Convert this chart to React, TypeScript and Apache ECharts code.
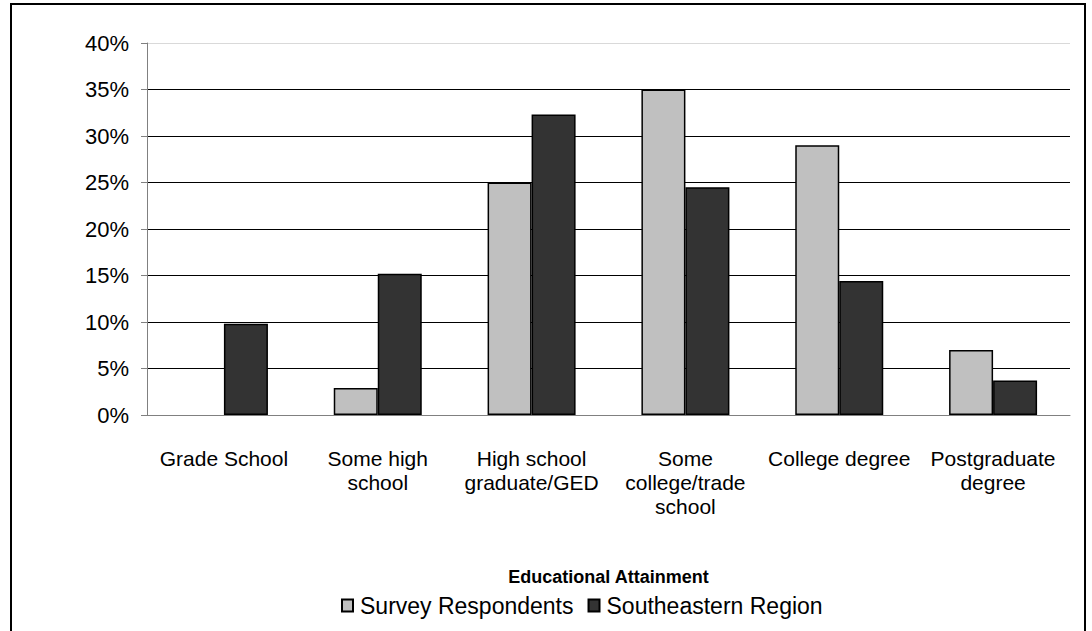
import React, { useEffect, useRef } from "react";
import * as echarts from "echarts";

const categories = [
  "Grade School",
  "Some high\nschool",
  "High school\ngraduate/GED",
  "Some\ncollege/trade\nschool",
  "College degree",
  "Postgraduate\ndegree",
];
const surveyRespondents = [0, 2.9, 25, 35, 29, 7];
const southeasternRegion = [9.8, 15.2, 32.3, 24.5, 14.4, 3.7];
const FONT = 'Arial, "Liberation Sans", sans-serif';

const toData = (arr: number[]) =>
  arr.map((v) => (v === 0 ? { value: v, itemStyle: { borderWidth: 0 } } : v));

export default function App() {
  const ref = useRef<HTMLDivElement>(null);
  useEffect(() => {
    const chart = echarts.init(ref.current!, null, { renderer: "svg" });
    const gridColors = ["#000", "#000", "#000", "#000", "#000", "#000", "#000", "#000", "#d9d9d9"];
    chart.setOption({
      animation: false,
      backgroundColor: "#fff",
      textStyle: { fontFamily: FONT },
      grid: { left: 147, right: 22, top: 43, bottom: 216 },
      graphic: [
        {
          type: "rect",
          shape: { x: 11, y: 4, width: 1074, height: 700 },
          style: { fill: "none", stroke: "#000", lineWidth: 2 },
          silent: true,
        },
      ],
      legend: {
        bottom: 9,
        left: 336,
        icon: "rect",
        itemWidth: 11,
        itemHeight: 12,
        itemGap: 14,
        textStyle: { fontSize: 23, color: "#000", fontFamily: FONT, padding: [0, 0, 0, 2] },
        data: ["Survey Respondents", "Southeastern Region"],
      },
      xAxis: {
        type: "category",
        data: categories,
        name: "Educational Attainment",
        nameLocation: "middle",
        nameGap: 153,
        nameTextStyle: { fontSize: 18, fontWeight: "bold", color: "#000", fontFamily: FONT },
        axisLine: { lineStyle: { color: "#808080", width: 1 } },
        axisTick: { length: 6, lineStyle: { color: "#808080" } },
        axisLabel: { fontSize: 21, color: "#000", margin: 31, lineHeight: 24, interval: 0, fontFamily: FONT },
      },
      yAxis: {
        type: "value",
        min: 0,
        max: 40,
        interval: 5,
        axisLine: { show: true, lineStyle: { color: "#808080", width: 1 } },
        axisTick: { show: true, length: 6, lineStyle: { color: "#808080" } },
        axisLabel: { formatter: "{value}%", fontSize: 22, color: "#000", margin: 18, fontFamily: FONT },
        splitLine: { lineStyle: { color: gridColors, width: 1 } },
      },
      series: [
        {
          name: "Survey Respondents",
          type: "bar",
          data: toData(surveyRespondents),
          barWidth: 44,
          barGap: "0%",
          itemStyle: { color: "#c0c0c0", borderColor: "#000", borderWidth: 1.5 },
        },
        {
          name: "Southeastern Region",
          type: "bar",
          data: toData(southeasternRegion),
          barWidth: 44,
          barGap: "0%",
          itemStyle: { color: "#333333", borderColor: "#000", borderWidth: 1.5 },
        },
      ],
    });
    return () => chart.dispose();
  }, []);
  return (
    <div
      ref={ref}
      style={{ position: "fixed", left: 0, top: 0, width: 1092, height: 631 }}
    />
  );
}
